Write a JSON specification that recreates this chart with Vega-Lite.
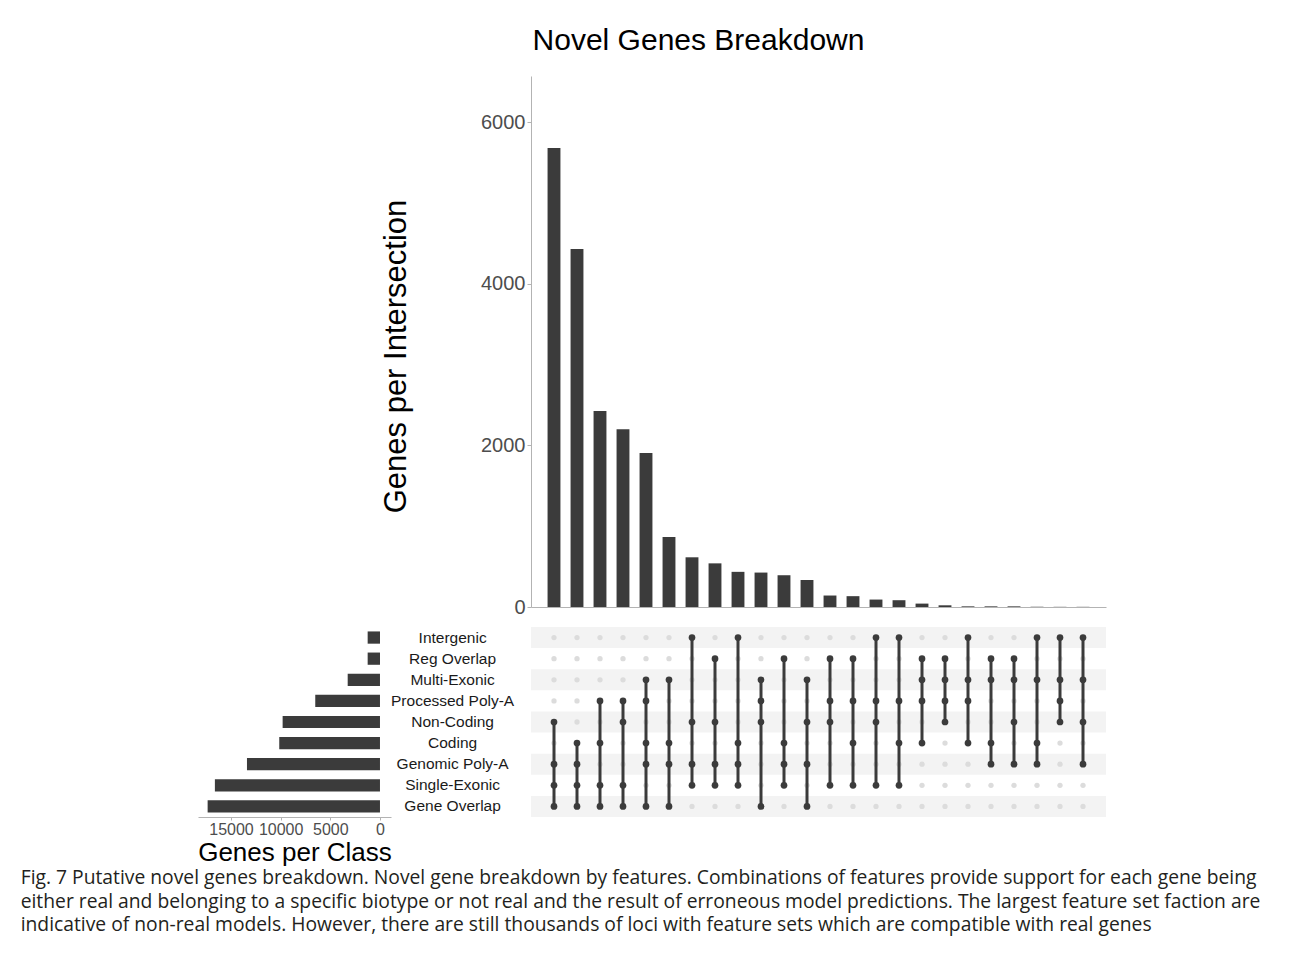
{
  "$schema": "https://vega.github.io/schema/vega-lite/v6.json",
  "autosize": {"type": "pad"},
  "padding": {"left": 20, "top": 26, "right": 5, "bottom": 5},
  "background": "white",
  "config": {
    "view": {"stroke": null},
    "font": "Liberation Sans",
    "axis": {"domainColor": "#b3b3b3", "tickColor": "#b3b3b3", "labelColor": "#4d4d4d", "labelFont": "Liberation Sans", "titleFont": "Liberation Sans", "titleFontWeight": "normal", "titleColor": "#000000", "grid": false}
  },
  "datasets": {
    "sets": [
      {"set": "Intergenic", "size": 1240},
      {"set": "Reg Overlap", "size": 1240},
      {"set": "Multi-Exonic", "size": 3250},
      {"set": "Processed Poly-A", "size": 6515},
      {"set": "Non-Coding", "size": 9800},
      {"set": "Coding", "size": 10140},
      {"set": "Genomic Poly-A", "size": 13390},
      {"set": "Single-Exonic", "size": 16620},
      {"set": "Gene Overlap", "size": 17350}
    ],
    "cols": [
      {"c": 1, "n": 5680, "top": "Non-Coding", "bot": "Gene Overlap", "Intergenic": 0, "Reg Overlap": 0, "Multi-Exonic": 0, "Processed Poly-A": 0, "Non-Coding": 1, "Coding": 0, "Genomic Poly-A": 1, "Single-Exonic": 1, "Gene Overlap": 1},
      {"c": 2, "n": 4430, "top": "Coding", "bot": "Gene Overlap", "Intergenic": 0, "Reg Overlap": 0, "Multi-Exonic": 0, "Processed Poly-A": 0, "Non-Coding": 0, "Coding": 1, "Genomic Poly-A": 1, "Single-Exonic": 1, "Gene Overlap": 1},
      {"c": 3, "n": 2425, "top": "Processed Poly-A", "bot": "Gene Overlap", "Intergenic": 0, "Reg Overlap": 0, "Multi-Exonic": 0, "Processed Poly-A": 1, "Non-Coding": 0, "Coding": 1, "Genomic Poly-A": 0, "Single-Exonic": 1, "Gene Overlap": 1},
      {"c": 4, "n": 2200, "top": "Processed Poly-A", "bot": "Gene Overlap", "Intergenic": 0, "Reg Overlap": 0, "Multi-Exonic": 0, "Processed Poly-A": 1, "Non-Coding": 1, "Coding": 0, "Genomic Poly-A": 0, "Single-Exonic": 1, "Gene Overlap": 1},
      {"c": 5, "n": 1905, "top": "Multi-Exonic", "bot": "Gene Overlap", "Intergenic": 0, "Reg Overlap": 0, "Multi-Exonic": 1, "Processed Poly-A": 1, "Non-Coding": 0, "Coding": 1, "Genomic Poly-A": 1, "Single-Exonic": 0, "Gene Overlap": 1},
      {"c": 6, "n": 866, "top": "Multi-Exonic", "bot": "Gene Overlap", "Intergenic": 0, "Reg Overlap": 0, "Multi-Exonic": 1, "Processed Poly-A": 0, "Non-Coding": 0, "Coding": 1, "Genomic Poly-A": 1, "Single-Exonic": 0, "Gene Overlap": 1},
      {"c": 7, "n": 615, "top": "Intergenic", "bot": "Single-Exonic", "Intergenic": 1, "Reg Overlap": 0, "Multi-Exonic": 0, "Processed Poly-A": 0, "Non-Coding": 1, "Coding": 0, "Genomic Poly-A": 1, "Single-Exonic": 1, "Gene Overlap": 0},
      {"c": 8, "n": 540, "top": "Reg Overlap", "bot": "Single-Exonic", "Intergenic": 0, "Reg Overlap": 1, "Multi-Exonic": 0, "Processed Poly-A": 0, "Non-Coding": 1, "Coding": 0, "Genomic Poly-A": 1, "Single-Exonic": 1, "Gene Overlap": 0},
      {"c": 9, "n": 435, "top": "Intergenic", "bot": "Single-Exonic", "Intergenic": 1, "Reg Overlap": 0, "Multi-Exonic": 0, "Processed Poly-A": 0, "Non-Coding": 0, "Coding": 1, "Genomic Poly-A": 1, "Single-Exonic": 1, "Gene Overlap": 0},
      {"c": 10, "n": 426, "top": "Multi-Exonic", "bot": "Gene Overlap", "Intergenic": 0, "Reg Overlap": 0, "Multi-Exonic": 1, "Processed Poly-A": 1, "Non-Coding": 1, "Coding": 0, "Genomic Poly-A": 0, "Single-Exonic": 0, "Gene Overlap": 1},
      {"c": 11, "n": 393, "top": "Reg Overlap", "bot": "Single-Exonic", "Intergenic": 0, "Reg Overlap": 1, "Multi-Exonic": 0, "Processed Poly-A": 0, "Non-Coding": 0, "Coding": 1, "Genomic Poly-A": 1, "Single-Exonic": 1, "Gene Overlap": 0},
      {"c": 12, "n": 334, "top": "Multi-Exonic", "bot": "Gene Overlap", "Intergenic": 0, "Reg Overlap": 0, "Multi-Exonic": 1, "Processed Poly-A": 0, "Non-Coding": 1, "Coding": 0, "Genomic Poly-A": 1, "Single-Exonic": 0, "Gene Overlap": 1},
      {"c": 13, "n": 142, "top": "Reg Overlap", "bot": "Single-Exonic", "Intergenic": 0, "Reg Overlap": 1, "Multi-Exonic": 0, "Processed Poly-A": 1, "Non-Coding": 1, "Coding": 0, "Genomic Poly-A": 0, "Single-Exonic": 1, "Gene Overlap": 0},
      {"c": 14, "n": 134, "top": "Reg Overlap", "bot": "Single-Exonic", "Intergenic": 0, "Reg Overlap": 1, "Multi-Exonic": 0, "Processed Poly-A": 1, "Non-Coding": 0, "Coding": 1, "Genomic Poly-A": 0, "Single-Exonic": 1, "Gene Overlap": 0},
      {"c": 15, "n": 92, "top": "Intergenic", "bot": "Single-Exonic", "Intergenic": 1, "Reg Overlap": 0, "Multi-Exonic": 0, "Processed Poly-A": 1, "Non-Coding": 1, "Coding": 0, "Genomic Poly-A": 0, "Single-Exonic": 1, "Gene Overlap": 0},
      {"c": 16, "n": 84, "top": "Intergenic", "bot": "Single-Exonic", "Intergenic": 1, "Reg Overlap": 0, "Multi-Exonic": 0, "Processed Poly-A": 1, "Non-Coding": 0, "Coding": 1, "Genomic Poly-A": 0, "Single-Exonic": 1, "Gene Overlap": 0},
      {"c": 17, "n": 42, "top": "Reg Overlap", "bot": "Coding", "Intergenic": 0, "Reg Overlap": 1, "Multi-Exonic": 1, "Processed Poly-A": 1, "Non-Coding": 0, "Coding": 1, "Genomic Poly-A": 0, "Single-Exonic": 0, "Gene Overlap": 0},
      {"c": 18, "n": 21, "top": "Reg Overlap", "bot": "Non-Coding", "Intergenic": 0, "Reg Overlap": 1, "Multi-Exonic": 1, "Processed Poly-A": 1, "Non-Coding": 1, "Coding": 0, "Genomic Poly-A": 0, "Single-Exonic": 0, "Gene Overlap": 0},
      {"c": 19, "n": 8, "top": "Intergenic", "bot": "Coding", "Intergenic": 1, "Reg Overlap": 0, "Multi-Exonic": 1, "Processed Poly-A": 1, "Non-Coding": 0, "Coding": 1, "Genomic Poly-A": 0, "Single-Exonic": 0, "Gene Overlap": 0},
      {"c": 20, "n": 8, "top": "Reg Overlap", "bot": "Genomic Poly-A", "Intergenic": 0, "Reg Overlap": 1, "Multi-Exonic": 1, "Processed Poly-A": 0, "Non-Coding": 0, "Coding": 1, "Genomic Poly-A": 1, "Single-Exonic": 0, "Gene Overlap": 0},
      {"c": 21, "n": 8, "top": "Reg Overlap", "bot": "Genomic Poly-A", "Intergenic": 0, "Reg Overlap": 1, "Multi-Exonic": 1, "Processed Poly-A": 0, "Non-Coding": 1, "Coding": 0, "Genomic Poly-A": 1, "Single-Exonic": 0, "Gene Overlap": 0},
      {"c": 22, "n": 3, "top": "Intergenic", "bot": "Genomic Poly-A", "Intergenic": 1, "Reg Overlap": 0, "Multi-Exonic": 1, "Processed Poly-A": 0, "Non-Coding": 0, "Coding": 1, "Genomic Poly-A": 1, "Single-Exonic": 0, "Gene Overlap": 0},
      {"c": 23, "n": 2, "top": "Intergenic", "bot": "Non-Coding", "Intergenic": 1, "Reg Overlap": 0, "Multi-Exonic": 1, "Processed Poly-A": 1, "Non-Coding": 1, "Coding": 0, "Genomic Poly-A": 0, "Single-Exonic": 0, "Gene Overlap": 0},
      {"c": 24, "n": 2, "top": "Intergenic", "bot": "Genomic Poly-A", "Intergenic": 1, "Reg Overlap": 0, "Multi-Exonic": 1, "Processed Poly-A": 0, "Non-Coding": 1, "Coding": 0, "Genomic Poly-A": 1, "Single-Exonic": 0, "Gene Overlap": 0}
    ]
  },
  "title": {
    "text": [
      "Fig. 7 Putative novel genes breakdown. Novel gene breakdown by features. Combinations of features provide support for each gene being",
      "either real and belonging to a specific biotype or not real and the result of erroneous model predictions. The largest feature set faction are",
      "indicative of non-real models. However, there are still thousands of loci with feature sets which are compatible with real genes"
    ],
    "orient": "bottom", "anchor": "start", "dx": -177, "offset": 4,
    "fontSize": 19.3, "fontWeight": "normal", "color": "#231f20", "lineHeight": 23.5, "font": "Open Sans"
  },
  "columns": 3,
  "bounds": "flush",
  "spacing": {"row": 20, "column": 0},
  "concat": [
    {"width": 193, "height": 531, "data": {"values": [{"a": 1}]}, "mark": {"type": "point", "opacity": 0}, "encoding": {}},
    {"width": 140, "height": 531, "data": {"values": [{"a": 1}]}, "mark": {"type": "point", "opacity": 0}, "encoding": {}},
    {
      "width": 575, "height": 531,
      "data": {"name": "cols"},
      "title": {"text": "Novel Genes Breakdown", "fontSize": 30, "fontWeight": "normal", "color": "#000000", "anchor": "middle", "dx": -120, "offset": -4, "baseline": "alphabetic", "font": "Liberation Sans"},
      "mark": {"type": "bar", "color": "#3b3b3b"},
      "encoding": {
        "x": {"field": "c", "type": "ordinal", "scale": {"paddingInner": 0.44, "paddingOuter": 0.72}, "axis": {"labels": false, "ticks": false, "title": null}},
        "y": {"field": "n", "type": "quantitative", "scale": {"domain": [0, 6570], "nice": false},
              "axis": {"values": [0, 2000, 4000, 6000], "format": "d", "labelFontSize": 20, "tickSize": 4, "labelPadding": 2, "title": "Genes per Intersection", "titleFontSize": 31, "titleAngle": -90, "titleX": -135, "titleY": 280, "titleAlign": "center", "titleBaseline": "middle"}}
      }
    },
    {
      "width": 193, "height": 190,
      "data": {"name": "sets"},
      "mark": {"type": "bar", "color": "#3b3b3b"},
      "encoding": {
        "y": {"field": "set", "type": "nominal", "scale": {"domain": ["Intergenic", "Reg Overlap", "Multi-Exonic", "Processed Poly-A", "Non-Coding", "Coding", "Genomic Poly-A", "Single-Exonic", "Gene Overlap"], "paddingInner": 0.42, "paddingOuter": 0.21}, "axis": null},
        "x": {"field": "size", "type": "quantitative", "scale": {"domain": [-1110, 18320], "nice": false, "zero": false, "reverse": true},
              "axis": {"values": [0, 5000, 10000, 15000], "format": "d", "labelFontSize": 16, "tickSize": 3, "labelPadding": 1, "title": "Genes per Class", "titleFontSize": 26, "titleBaseline": "alphabetic", "titleY": 43}}
      }
    },
    {
      "width": 140, "height": 190,
      "data": {"name": "sets"},
      "mark": {"type": "text", "fontSize": 15.5, "color": "#1a1a1a", "align": "center", "baseline": "middle"},
      "encoding": {
        "y": {"field": "set", "type": "nominal", "scale": {"domain": ["Intergenic", "Reg Overlap", "Multi-Exonic", "Processed Poly-A", "Non-Coding", "Coding", "Genomic Poly-A", "Single-Exonic", "Gene Overlap"], "paddingInner": 0, "paddingOuter": 0}, "axis": null},
        "x": {"datum": 0.44, "type": "quantitative", "scale": {"domain": [0, 1]}, "axis": null},
        "text": {"field": "set"}
      }
    },
    {
      "width": 575, "height": 190,
      "layer": [
        {
          "data": {"name": "sets"},
          "transform": [{"filter": {"field": "set", "oneOf": ["Intergenic", "Multi-Exonic", "Non-Coding", "Genomic Poly-A", "Gene Overlap"]}}],
          "mark": {"type": "rect", "color": "#f3f3f3"},
          "encoding": {
            "y": {"field": "set", "type": "nominal", "scale": {"domain": ["Intergenic", "Reg Overlap", "Multi-Exonic", "Processed Poly-A", "Non-Coding", "Coding", "Genomic Poly-A", "Single-Exonic", "Gene Overlap"], "paddingInner": 0, "paddingOuter": 0}, "axis": null}
          }
        },
        {
          "data": {"name": "cols"},
          "transform": [{"fold": ["Intergenic", "Reg Overlap", "Multi-Exonic", "Processed Poly-A", "Non-Coding", "Coding", "Genomic Poly-A", "Single-Exonic", "Gene Overlap"], "as": ["set", "m"]}, {"filter": {"field": "m", "equal": 0}}],
          "mark": {"type": "point", "filled": true, "opacity": 1, "color": "#dcdcdc", "size": 28},
          "encoding": {
            "x": {"field": "c", "type": "ordinal", "scale": {"type": "point", "padding": 1}, "axis": null},
            "y": {"field": "set", "type": "nominal", "axis": null}
          }
        },
        {
          "data": {"name": "cols"},
          "mark": {"type": "rule", "color": "#3b3b3b", "strokeWidth": 3},
          "encoding": {
            "x": {"field": "c", "type": "ordinal", "axis": null},
            "y": {"field": "top", "type": "nominal", "axis": null},
            "y2": {"field": "bot"}
          }
        },
        {
          "data": {"name": "cols"},
          "transform": [{"fold": ["Intergenic", "Reg Overlap", "Multi-Exonic", "Processed Poly-A", "Non-Coding", "Coding", "Genomic Poly-A", "Single-Exonic", "Gene Overlap"], "as": ["set", "m"]}, {"filter": {"field": "m", "equal": 1}}],
          "mark": {"type": "point", "filled": true, "opacity": 1, "color": "#3b3b3b", "size": 45},
          "encoding": {
            "x": {"field": "c", "type": "ordinal", "axis": null},
            "y": {"field": "set", "type": "nominal", "axis": null}
          }
        }
      ]
    }
  ]
}
